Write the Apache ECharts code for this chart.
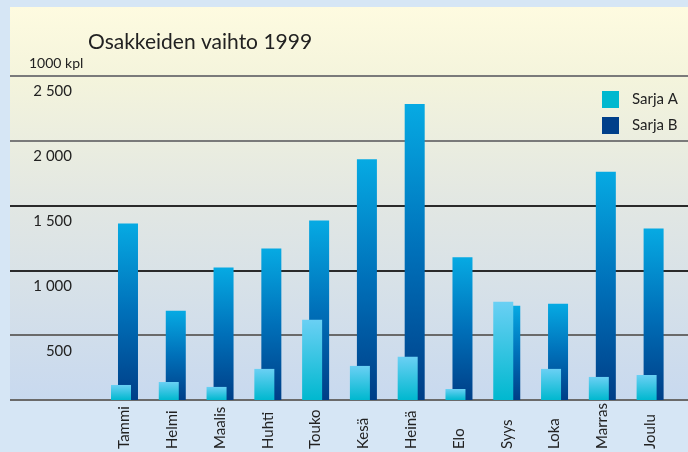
<!DOCTYPE html>
<html>
<head>
<meta charset="utf-8">
<script src="https://cdn.jsdelivr.net/npm/echarts@6/dist/echarts.min.js"></script>
<style>
html,body{margin:0;padding:0;background:#d6e6f5;}
#chart{width:688px;height:452px;}
</style>
</head>
<body>
<div id="chart"></div>
<script>
const categories = ['Tammi','Helmi','Maalis','Huhti','Touko','Kesä','Heinä','Elo','Syys','Loka','Marras','Joulu'];
const sarjaA = [116, 139, 101, 240, 619, 263, 333, 85, 759, 240, 178, 193];
const sarjaB = [1362, 689, 1022, 1169, 1385, 1858, 2283, 1101, 728, 743, 1762, 1324];
const seriesNames = ['Sarja A', 'Sarja B'];
const yTicks = [0, 500, 1000, 1500, 2000, 2500];

const FONT = 'Lato, "Open Sans", sans-serif';
const chart = echarts.init(document.getElementById('chart'));

function fmt(v){
  if (v === 0) return '';
  const s = String(v);
  return s.length > 3 ? s.slice(0, s.length-3) + ' ' + s.slice(-3) : s;
}

const option = {
  backgroundColor: '#d6e6f5',
  animation: false,
  graphic: {
    elements: [{
      type: 'rect', z: -10,
      shape: {x: 10, y: 7, width: 678, height: 393},
      style: {
        fill: new echarts.graphic.LinearGradient(0, 0, 0, 1, [
          {offset: 0, color: '#fefbe0'},
          {offset: 0.18, color: '#f4f4dc'},
          {offset: 0.5, color: '#e2e7e3'},
          {offset: 1, color: '#c8d9ef'}
        ])
      }
    }]
  },
  title: [
    {text: 'Osakkeiden vaihto 1999', left: 88, top: 32, padding: 0,
     textStyle: {fontFamily: FONT, fontSize: 21, fontWeight: 'normal', color: '#222'}},
    {text: '1000 kpl', left: 29, top: 56, padding: 0,
     textStyle: {fontFamily: FONT, fontSize: 14, fontWeight: 'normal', color: '#222'}}
  ],
  legend: {
    orient: 'vertical', left: 597, top: 86,
    itemWidth: 17, itemHeight: 17, itemGap: 9,
    icon: 'rect',
    textStyle: {fontFamily: FONT, fontSize: 15, color: '#222', padding: [0,0,0,8]},
    data: [
      {name: seriesNames[0], itemStyle: {color: '#00b8cf'}},
      {name: seriesNames[1], itemStyle: {color: '#003f8a'}}
    ]
  },
  grid: [
    {left: 10, right: 0, top: 76, bottom: 52},
    {left: 100.6, right: 14, top: 76, bottom: 52}
  ],
  xAxis: [
    {type: 'value', gridIndex: 0, show: false, min: 0, max: 1},
    {type: 'category', gridIndex: 1, data: categories,
     axisLine: {show: false}, axisTick: {show: false},
     axisLabel: {rotate: 90, align: 'left', verticalAlign: 'middle', margin: 49,
                 fontFamily: FONT, fontSize: 15, color: '#222', interval: 0}}
  ],
  yAxis: [
    {type: 'value', gridIndex: 0, min: yTicks[0], max: yTicks[yTicks.length-1], interval: 500,
     axisLine: {show: false}, axisTick: {show: false},
     splitLine: {show: true, lineStyle: {width: 2, color: ['#6a6a6a','#6a6a6a','#2a2a2a','#2a2a2a','#7a7a7a','#7a7a7a']}},
     axisLabel: {inside: true, margin: 62, align: 'right', verticalAlign: 'top',
                 padding: [8,0,0,0], fontFamily: FONT, fontSize: 15, color: '#222',
                 formatter: fmt}},
    {type: 'value', gridIndex: 1, min: yTicks[0], max: yTicks[yTicks.length-1], interval: 500, show: false,
     splitLine: {show: false}}
  ],
  series: [
    {name: seriesNames[0], type: 'bar', xAxisIndex: 1, yAxisIndex: 1, data: sarjaA,
     barWidth: 20, barGap: '-65%', z: 4,
     itemStyle: {color: new echarts.graphic.LinearGradient(0,0,0,1,[
       {offset: 0, color: '#6ad0f4'}, {offset: 1, color: '#00b8cf'}])}},
    {name: seriesNames[1], type: 'bar', xAxisIndex: 1, yAxisIndex: 1, data: sarjaB,
     barWidth: 20, barGap: '-65%', z: 3,
     itemStyle: {color: new echarts.graphic.LinearGradient(0,0,0,1,[
       {offset: 0, color: '#06aae3'}, {offset: 0.5, color: '#0070b9'}, {offset: 1, color: '#003e87'}])}}
  ]
};
chart.setOption(option);
</script>
</body>
</html>
